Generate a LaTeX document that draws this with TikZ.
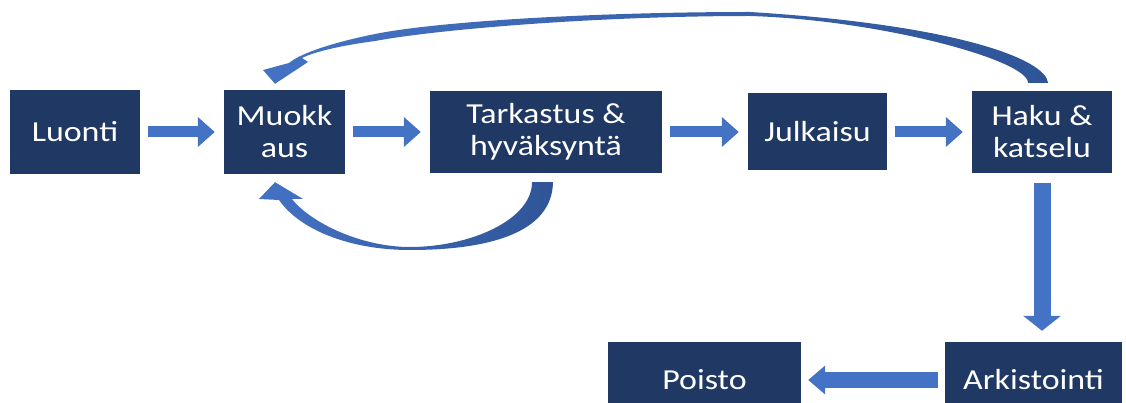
\documentclass[tikz,border=0pt]{standalone}
\usepackage{fontspec}
\setmainfont{Carlito}[FakeStretch=1.17]
\usetikzlibrary{arrows.meta}
\definecolor{navy}{HTML}{203864}
\definecolor{flow}{HTML}{4472C4}
\definecolor{flowdark}{HTML}{2F5597}

\begin{document}
\begin{tikzpicture}[
  x=1pt,y=-1pt,
  stage/.style={fill=navy,text=white,inner sep=0pt,align=center,
    font=\fontsize{29}{32}\selectfont},
  flowarrow/.style={draw=flow,line width=11pt,
    -{Triangle[length=17pt,width=29pt]},shorten <=8pt,shorten >=9pt},
  backflow/.style={left color=flow,right color=flowdark}
]
  \clip (0,0) rectangle (1126,403);

  % top row
  \node[stage,minimum width=130,minimum height=84] (luonti) at (75,132) {Luonti};
  \node[stage,minimum width=121,minimum height=84] (muokkaus) at (284.5,132) {Muokk\\aus};
  \node[stage,minimum width=232,minimum height=82] (tark) at (546,132) {Tarkastus \&\\hyväksyntä};
  \node[stage,minimum width=139,minimum height=77] (julkaisu) at (817.5,132) {Julkaisu};
  \node[stage,minimum width=140,minimum height=82] (haku) at (1042,132) {Haku \&\\katselu};
  % bottom row
  \node[stage,minimum width=177,minimum height=76] (arkist) at (1033.5,380) {Arkistointi};
  \node[stage,minimum width=193,minimum height=76] (poisto) at (704.5,380) {Poisto};

  \draw[flowarrow] (luonti) -- (muokkaus);
  \draw[flowarrow] (muokkaus) -- (tark);
  \draw[flowarrow] (tark) -- (julkaisu);
  \draw[flowarrow] (julkaisu) -- (haku);
  \draw[flowarrow,line width=17pt,-{Triangle[length=15pt,width=37pt]},
    shorten <=10pt,shorten >=11pt] (haku.south) -- (haku.south |- arkist.north);
  \draw[flowarrow,line width=16pt,-{Triangle[length=17pt,width=28pt]},
    shorten <=7pt,shorten >=7pt] (arkist.west) -- (poisto.east);

  % back to editing from search
  \shade[backflow] ([shift={(6,-8)}]haku.north)
    .. controls (1046,60) and (960,25) .. (750,12)
    .. controls (600,12) and (440,21) .. (375,34)
    .. controls (340,41) and (302,52) .. (289,63)
    -- (263,70) -- ([shift={(-9.5,-6)}]muokkaus.north) -- (308,62) -- (302,58)
    .. controls (316,51) and (345,45) .. (375,41)
    .. controls (440,29) and (600,16) .. (750,16)
    .. controls (880,20) and (1028,60) .. ([shift={(-14,-8)}]haku.north)
    -- cycle;
  % back to editing from review
  \shade[backflow] ([shift={(7,9)}]tark.south)
    .. controls (552,240) and (470,250) .. (410,250)
    .. controls (350,250) and (300,230) .. (279,200)
    -- (259,199) -- ([shift={(-9.5,8)}]muokkaus.south) -- (303,199) -- (292,199)
    .. controls (310,222) and (360,247) .. (410,247)
    .. controls (470,247) and (532,220) .. ([shift={(-14,9)}]tark.south)
    -- cycle;
\end{tikzpicture}
\end{document}
